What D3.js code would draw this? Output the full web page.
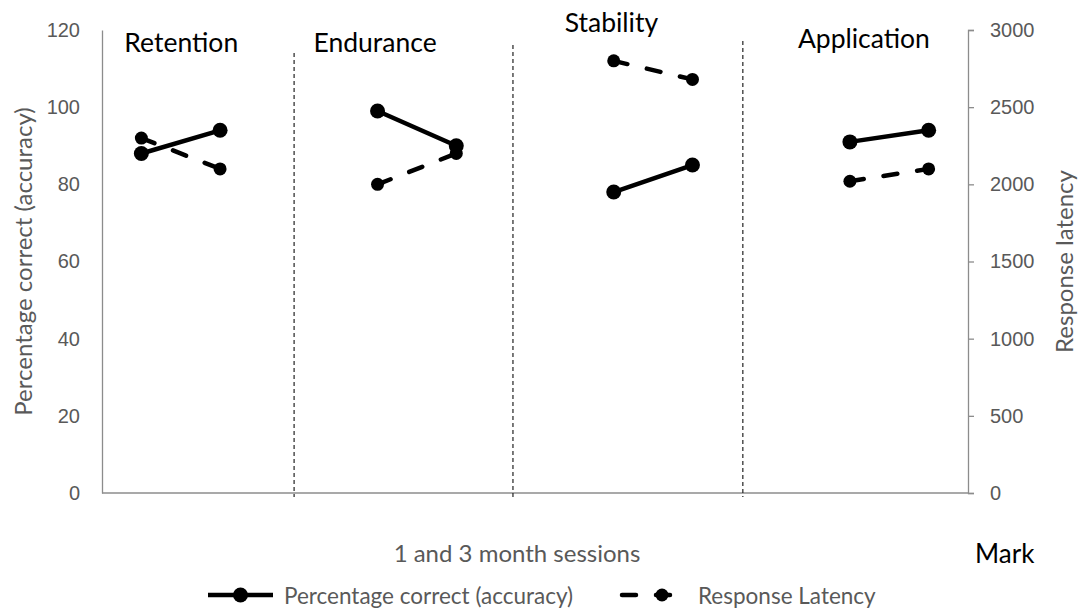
<!DOCTYPE html>
<html>
<head>
<meta charset="utf-8">
<script src="https://cdn.jsdelivr.net/npm/d3@7"></script>
<style>
  body { margin: 0; background: #fff; }
  svg { display: block; font-family: Lato, "Open Sans", sans-serif; }
</style>
</head>
<body>
<svg id="chart"></svg>
<script>
// 11 category slots on the x axis, the empty ones split the four tasks
const slots = ["R1", "R3", "", "E1", "E3", "", "S1", "S3", "", "A1", "A3"];
const taskNames = ["Retention", "Endurance", "Stability", "Application"];
const accuracy = [88, 94, null, 99, 90, null, 78, 85, null, 91, 94];
const latency = [2300, 2100, null, 2000, 2200, null, 2800, 2680, null, 2020, 2100];
const accuracyTicks = [0, 20, 40, 60, 80, 100, 120];
const latencyTicks = [0, 500, 1000, 1500, 2000, 2500, 3000];
const seriesNames = ["Percentage correct (accuracy)", "Response Latency"];

const width = 1079, height = 609;
const margin = {top: 30, right: 111, bottom: 116, left: 102};
const innerW = width - margin.left - margin.right;
const innerH = height - margin.top - margin.bottom;

const svg = d3.select("#chart").attr("width", width).attr("height", height);
const chart = svg.append("g").attr("transform", `translate(${margin.left},${margin.top})`);

const x = d3.scaleBand().domain(d3.range(slots.length)).range([0, innerW]);
const cx = i => x(i) + x.bandwidth() / 2;
const yL = d3.scaleLinear().domain([0, 120]).range([innerH, 0]);
const yR = d3.scaleLinear().domain([0, 3000]).range([innerH, 0]);

const grey = "#595959";
const axisGrey = "#8c8c8c";

// left axis
const leftAxis = chart.append("g")
  .call(d3.axisLeft(yL).tickValues(accuracyTicks).tickSize(0).tickPadding(22));
leftAxis.select(".domain").attr("stroke", axisGrey).attr("stroke-width", 1.3);
leftAxis.selectAll("text").attr("fill", grey).style("font-size", "20px").attr("font-family", null);

// right axis
const rightAxis = chart.append("g").attr("transform", `translate(${innerW},0)`)
  .call(d3.axisRight(yR).tickValues(latencyTicks).tickFormat(d3.format("d"))
    .tickSize(6).tickSizeOuter(6).tickPadding(16));
rightAxis.select(".domain").attr("stroke", axisGrey).attr("stroke-width", 1.3);
rightAxis.selectAll(".tick line").attr("stroke", axisGrey).attr("stroke-width", 1.3);
rightAxis.selectAll("text").attr("fill", grey).style("font-size", "20px").attr("font-family", null);

// bottom axis line
chart.append("line")
  .attr("x1", 0).attr("x2", innerW).attr("y1", innerH).attr("y2", innerH)
  .attr("stroke", axisGrey).attr("stroke-width", 1.3);

// dotted task separators (drawn shapes in the original)
const separators = [{at: 2.44, top: 23}, {at: 5.22, top: 15}, {at: 8.14, top: 11}];
chart.selectAll(".sep").data(separators).enter().append("line")
  .attr("class", "sep")
  .attr("x1", d => x(0) + d.at * x.bandwidth()).attr("x2", d => x(0) + d.at * x.bandwidth())
  .attr("y1", d => d.top).attr("y2", innerH + 4)
  .attr("stroke", "#222").attr("stroke-width", 1.2).attr("stroke-dasharray", "4 3");

// task labels
const labelPos = [{dx: -17, y: 22}, {dx: -64, y: 22}, {dx: -49, y: 2}, {dx: -52, y: 18}];
chart.selectAll(".task").data(taskNames).enter().append("text")
  .attr("class", "task")
  .attr("x", (d, i) => cx(i * 3) + labelPos[i].dx)
  .attr("y", (d, i) => labelPos[i].y)
  .style("font-size", "26.5px").attr("fill", "#000")
  .text(d => d);

// series
const lineL = d3.line().defined(d => d != null).x((d, i) => cx(i)).y(d => yL(d));
const lineR = d3.line().defined(d => d != null).x((d, i) => cx(i)).y(d => yR(d));

chart.append("path").datum(accuracy)
  .attr("d", lineL).attr("fill", "none").attr("stroke", "#000").attr("stroke-width", 4.5);
chart.selectAll(".accDot").data(accuracy.map((v, i) => ({v, i})).filter(d => d.v != null))
  .enter().append("circle").attr("class", "accDot")
  .attr("cx", d => cx(d.i)).attr("cy", d => yL(d.v)).attr("r", 7.5).attr("fill", "#000");

chart.append("path").datum(latency)
  .attr("d", lineR).attr("fill", "none").attr("stroke", "#000").attr("stroke-width", 4.5)
  .attr("stroke-dasharray", "14 20").attr("stroke-linecap", "round");
chart.selectAll(".latDot").data(latency.map((v, i) => ({v, i})).filter(d => d.v != null))
  .enter().append("circle").attr("class", "latDot")
  .attr("cx", d => cx(d.i)).attr("cy", d => yR(d.v)).attr("r", 6.5).attr("fill", "#000");

// axis titles
svg.append("text")
  .attr("transform", `translate(22,${margin.top + innerH / 2}) rotate(-90)`)
  .attr("text-anchor", "middle").attr("dominant-baseline", "central")
  .style("font-size", "24px").attr("fill", grey)
  .text("Percentage correct (accuracy)");
svg.append("text")
  .attr("transform", `translate(1063,${margin.top + innerH / 2}) rotate(-90)`)
  .attr("text-anchor", "middle").attr("dominant-baseline", "central")
  .style("font-size", "24px").attr("fill", grey)
  .text("Response latency");
svg.append("text")
  .attr("x", 517).attr("y", 562).attr("text-anchor", "middle")
  .style("font-size", "24px").attr("fill", grey)
  .text("1 and 3 month sessions");
svg.append("text")
  .attr("x", 975).attr("y", 563)
  .style("font-size", "26px").attr("fill", "#000")
  .text("Mark");

// legend
const legend = svg.append("g").attr("transform", "translate(0,595)");
const legItems = [{x: 208, dash: null}, {x: 622, dash: "14 20"}];
legItems.forEach((it, i) => {
  const g = legend.append("g").attr("transform", `translate(${it.x},0)`);
  g.append("line").attr("x1", 0).attr("x2", 65).attr("y1", 0).attr("y2", 0)
    .attr("stroke", "#000").attr("stroke-width", 4.5)
    .attr("stroke-dasharray", it.dash).attr("stroke-linecap", it.dash ? "round" : "butt");
  g.append("circle").attr("cx", it.dash ? 40 : 32.5).attr("cy", 0).attr("r", it.dash ? 6.5 : 7.5).attr("fill", "#000");
  g.append("text").attr("x", 76).attr("y", 0).attr("dominant-baseline", "central")
    .style("font-size", "22.5px").attr("fill", grey)
    .text(seriesNames[i]);
});
</script>
</body>
</html>
